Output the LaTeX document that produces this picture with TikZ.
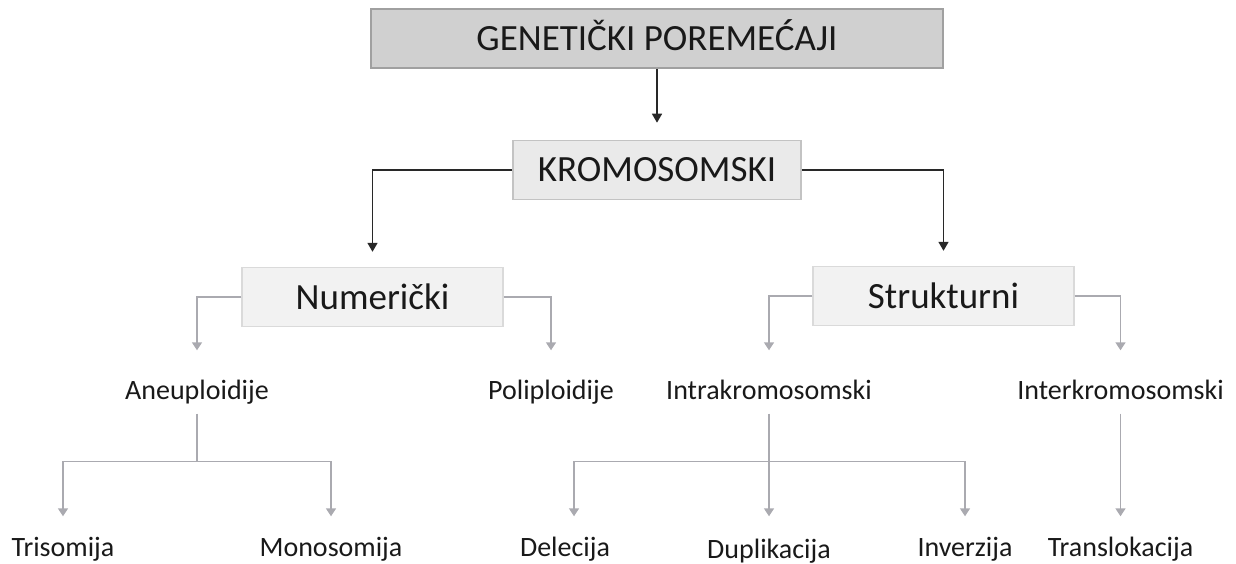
\documentclass[tikz,border=0pt]{standalone}
\usepackage{fontspec}
\setmainfont{Carlito}
\usetikzlibrary{arrows.meta}
\definecolor{topfill}{RGB}{208,208,208}
\definecolor{topdraw}{RGB}{160,160,160}
\definecolor{midfill}{RGB}{234,234,234}
\definecolor{middraw}{RGB}{195,195,195}
\definecolor{subfill}{RGB}{242,242,242}
\definecolor{subdraw}{RGB}{218,218,218}
\definecolor{darkline}{RGB}{40,40,40}
\definecolor{greyline}{RGB}{170,170,176}
\definecolor{txt}{RGB}{25,25,25}

\begin{document}
\begin{tikzpicture}[
  x=1pt,y=-1pt,
  every node/.style={text=txt,inner sep=0pt},
  boxtext/.style={font=\fontsize{37pt}{44pt}\selectfont,text height=24pt,text depth=0pt},
  bigbox/.style={boxtext,draw=topdraw,fill=topfill,line width=2pt,minimum width=572pt,minimum height=59pt},
  midbox/.style={boxtext,draw=middraw,fill=midfill,line width=1.6pt,minimum width=288pt,minimum height=59pt},
  subbox/.style={boxtext,draw=subdraw,fill=subfill,line width=1.4pt,minimum width=261pt,minimum height=59pt},
  lbl/.style={font=\fontsize{28pt}{34pt}\selectfont,text height=20pt,text depth=6pt,anchor=base},
  darr/.style={draw=darkline,line width=1.6pt,-{Triangle[length=9pt,width=10pt]}},
  gline/.style={draw=greyline,line width=1.5pt},
  garr/.style={gline,-{Triangle[length=8pt,width=10pt]},shorten >=20pt}
]
  \useasboundingbox (0,0) rectangle (1236,564);
  \node[bigbox] (gen) at (657,38.5) {GENETIČKI POREMEĆAJI};
  \node[midbox] (kro) at (657,170) {KROMOSOMSKI};
  \node[subbox] (num) at (372.5,297) {Numerički};
  \node[subbox] (str) at (943.5,296) {Strukturni};

  \node[lbl] (aneu) at (197,399.5) {Aneuploidije};
  \node[lbl] (poli) at (551,399.5) {Poliploidije};
  \node[lbl] (intra) at (769,399.5) {Intrakromosomski};
  \node[lbl] (inter) at (1120.5,399.5) {Interkromosomski};

  \node[lbl] (tri) at (63,556.5) {Trisomija};
  \node[lbl] (mono) at (331,556.5) {Monosomija};
  \node[lbl] (del) at (565,556.5) {Delecija};
  \node[lbl] (dup) at (769,558.3) {Duplikacija};
  \node[lbl] (inv) at (965,556.5) {Inverzija};
  \node[lbl] (trans) at (1120.5,556.5) {Translokacija};

  \coordinate (aneuj) at (197,461.5);
  \coordinate (intraj) at (769,461.5);

  \draw[darr,shorten >=17pt] (gen) -- (kro);
  \draw[darr,shorten >=15pt] (kro) -| (num);
  \draw[darr,shorten >=15pt] (kro) -| (str);

  \draw[garr,shorten >=29pt] (num) -| (aneu);
  \draw[garr,shorten >=29pt] (num) -| (poli);
  \draw[garr,shorten >=29pt] (str) -| (intra);
  \draw[garr,shorten >=29pt] (str) -| (inter);

  \draw[gline,shorten <=8pt] (aneu) -- (aneuj);
  \draw[garr] (aneuj) -| (tri);
  \draw[garr] (aneuj) -| (mono);

  \draw[garr,shorten <=8pt,shorten >=21.8pt] (intra) -- (dup);
  \draw[garr] (intraj) -| ([xshift=9pt]del.north);
  \draw[garr] (intraj) -| (inv);

  \draw[garr,shorten <=8pt] (inter) -- (trans);
\end{tikzpicture}
\end{document}
